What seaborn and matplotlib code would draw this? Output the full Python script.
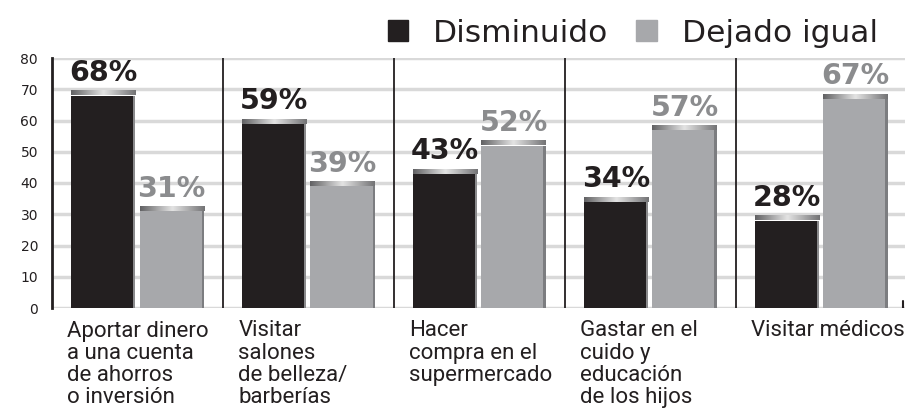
import numpy as np
import pandas as pd
import seaborn as sns
import matplotlib.pyplot as plt
from matplotlib.patches import Patch, Rectangle
from matplotlib.colors import LinearSegmentedColormap

# --- data ---
categories = [
    "Aportar dinero\na una cuenta\nde ahorros\no inversión",
    "Visitar\nsalones\nde belleza/\nbarberías",
    "Hacer\ncompra en el\nsupermercado",
    "Gastar en el\ncuido y\neducación\nde los hijos",
    "Visitar médicos",
]
series = ["Disminuido", "Dejado igual"]
disminuido = [68, 59, 43, 34, 28]
dejado_igual = [31, 39, 52, 57, 67]
yticks = [0, 10, 20, 30, 40, 50, 60, 70, 80]

bar_colors = ["#231f20", "#a7a8ab"]
label_colors = ["#231f20", "#8b8c8e"]
side_colors = ["#8a8a8c", "#7c7d80"]

df = pd.DataFrame({
    "categoria": categories * 2,
    "serie": [series[0]] * len(categories) + [series[1]] * len(categories),
    "valor": disminuido + dejado_igual,
})

sns.set_theme(style="white")
plt.rcParams["font.family"] = ["DejaVu Sans"]

fig = plt.figure(figsize=(9.1, 4.17), dpi=100)
ax = fig.add_axes([52 / 910, 109 / 417, 853 / 910, 250 / 417])

sns.barplot(data=df, x="categoria", y="valor", hue="serie", hue_order=series,
            palette=bar_colors, width=0.8, gap=0.06, saturation=1,
            linewidth=0, legend=False, ax=ax, zorder=2)

# grid + axes styling
ax.set_yticks(yticks)
ax.yaxis.grid(True, color="#d9d9d9", lw=2.5)
ax.set_axisbelow(True)
for s in ["top", "right", "bottom"]:
    ax.spines[s].set_visible(False)
ax.spines["left"].set_color("#231f20")
ax.spines["left"].set_linewidth(2)
ax.tick_params(axis="y", length=0, labelsize=10, pad=10, labelcolor="#231f20")
ax.set_xticks([])
ax.set_xlabel("")
ax.set_ylabel("")

# vertical dividers between groups
for xd in np.arange(len(categories) - 1) + 0.5:
    ax.axvline(xd, color="#231f20", lw=1.3, zorder=1)
ax.axvline(len(categories) - 0.52, ymin=0, ymax=0.03, color="#231f20", lw=1.5)

# 3D-ish bevel on top and right side of each bar
bevel = LinearSegmentedColormap.from_list("bevel", ["#626264", "#e4e4e4", "#747476"])
grad = np.linspace(0, 1, 64).reshape(1, -1)
for k, cont in enumerate(ax.containers):
    for p in cont.patches:
        x, w, h = p.get_x(), p.get_width(), p.get_height()
        ax.imshow(grad, extent=(x, x + w, h, h + 1.6), aspect="auto",
                  cmap=bevel, zorder=3)
        ax.add_patch(Rectangle((x + w - 0.013, 0), 0.013, h,
                               color=side_colors[k], lw=0, zorder=3))
    ax.bar_label(cont, labels=[f"{v:.0f}%" for v in cont.datavalues],
                 padding=6, fontsize=20.5, fontweight="bold",
                 color=label_colors[k], zorder=4)
ax.set_ylim(0, 80)
ax.set_xlim(-0.5, len(categories) - 0.51)

# category labels under the groups
for i, cat in enumerate(categories):
    ax.annotate(cat, xy=(i - 0.5, 0), xycoords=("data", "axes fraction"),
                xytext=(11, -9), textcoords="offset points",
                ha="left", va="top", fontsize=16, family=["Roboto", "DejaVu Sans"],
                color="#231f20", linespacing=1.07, annotation_clip=False)

# legend
handles = [Patch(color=c) for c in bar_colors]
fig.legend(handles, series, loc="upper right", bbox_to_anchor=(0.985, 1.0),
           ncol=2, frameon=False, fontsize=22.5, handlelength=0.65,
           handleheight=0.65, handletextpad=0.8, columnspacing=0.9,
           borderaxespad=0.2, labelcolor="#231f20")

fig.savefig("out.png", dpi=100)
